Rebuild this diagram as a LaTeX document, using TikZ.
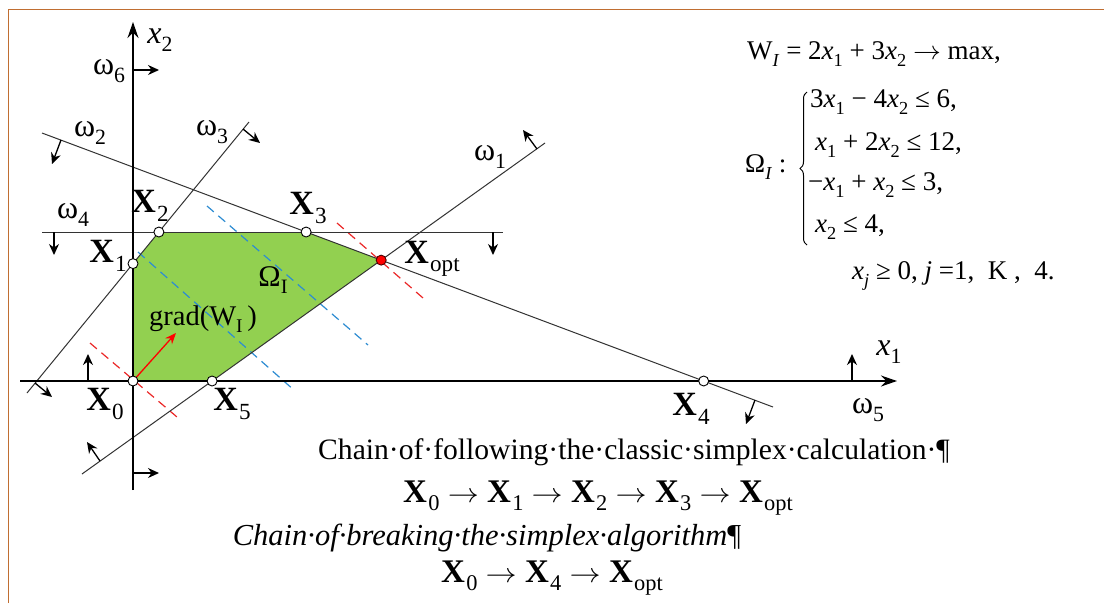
\documentclass[tikz,border=0pt]{standalone}
\usepackage{fontspec}
\setmainfont{Liberation Serif}
\usepackage{graphicx}
\usetikzlibrary{arrows.meta,decorations.pathreplacing,calc}
\definecolor{framebrown}{RGB}{192,110,50}
\definecolor{regiongreen}{RGB}{146,208,80}
\definecolor{lvlred}{RGB}{235,40,40}
\definecolor{lvlblue}{RGB}{45,140,210}
\newcommand\sbx[1]{\raisebox{-0.25em}{\scalebox{0.68}{#1}}}
\newcommand\Xp[1]{\textbf{X}\kern0.04em\sbx{#1}}
\newcommand\om[1]{ω\sbx{#1}}
\newcommand\ix[1]{\textit{x}\sbx{#1}}
\newcommand\arr{ \scalebox{1.25}[1.1]{$\rightarrow$} }
\newcommand\farr{ \scalebox{1.12}[1.05]{$\rightarrow$} }
\begin{document}
\begin{tikzpicture}[x=1pt,y=-1pt,
  cline/.style={line width=1pt, draw=black!80},
  axisline/.style={line width=1.5pt, -{Stealth[length=16pt,width=11pt]}},
  dirarrow/.style={line width=1.3pt, -{Stealth[length=11pt,width=10pt]}},
  vtx/.style={circle, draw=black, fill=white, line width=0.9pt, inner sep=0pt, minimum size=10pt},
  optpt/.style={circle, draw=black!70!red, fill=red, line width=0.9pt, inner sep=0pt, minimum size=10pt},
  reddash/.style={draw=lvlred, line width=1.2pt, dash pattern=on 9pt off 6pt},
  bluedash/.style={draw=lvlblue, line width=1.2pt, dash pattern=on 9pt off 6pt},
  lbl/.style={inner sep=0pt, font=\fontsize{32}{34}\selectfont},
  xlbl/.style={inner sep=0pt, font=\fontsize{34}{36}\selectfont},
  fml/.style={inner sep=0pt, anchor=west, font=\fontsize{27}{30}\selectfont},
  txt/.style={inner sep=0pt, font=\fontsize{29.6}{32}\selectfont},
  chain/.style={inner sep=0pt, font=\fontsize{33}{36}\selectfont}]
\useasboundingbox (0,0) rectangle (1104,603);
\fill[white] (0,0) rectangle (1104,603);
\draw[framebrown, line width=1.6pt] (8.5,603) -- (8.5,9.5) -- (1104,9.5);

% line end points
\coordinate (ax1a) at (20,381);  \coordinate (ax1b) at (897,381);
\coordinate (ax2a) at (133,490); \coordinate (ax2b) at (133,22);
\coordinate (w1a) at (82,474);   \coordinate (w1b) at (545,143);
\coordinate (w2a) at (42,133);   \coordinate (w2b) at (773,407);
\coordinate (w3a) at (27,393);   \coordinate (w3b) at (249,122);
\coordinate (w4a) at (42,232);   \coordinate (w4b) at (503,232);

% vertices
\coordinate (X0) at (133,381);
\coordinate (X1) at (intersection of w3a--w3b and ax2a--ax2b);
\coordinate (X2) at (intersection of w3a--w3b and w4a--w4b);
\coordinate (X3) at (intersection of w2a--w2b and w4a--w4b);
\coordinate (Xo) at (intersection of w1a--w1b and w2a--w2b);
\coordinate (X5) at (intersection of w1a--w1b and ax1a--ax1b);
\coordinate (X4) at (intersection of w2a--w2b and ax1a--ax1b);

% feasible region
\fill[regiongreen] (X0) -- (X1) -- (X2) -- (X3) -- (Xo) -- (X5) -- cycle;

% level lines
\coordinate (r1a) at (90,343);  \coordinate (r1b) at (177,417);
\coordinate (r2a) at (337,223); \coordinate (r2b) at (423,298);
\coordinate (b1a) at (138,252); \coordinate (b1b) at (295,391);
\coordinate (b2a) at (207,206); \coordinate (b2b) at (368,345);
\draw[bluedash] (b1a) -- (b1b);
\draw[bluedash] (b2a) -- (b2b);
\draw[reddash] (r1a) -- (r1b);
\draw[reddash] (r2a) -- (r2b);

% constraint lines
\draw[cline] (w1a) -- (w1b);
\draw[cline] (w2a) -- (w2b);
\draw[cline] (w3a) -- (w3b);
\draw[cline] (w4a) -- (w4b);

% axes
\draw[axisline] (ax1a) -- (ax1b);
\draw[axisline] (ax2a) -- (ax2b);

% direction arrows
\coordinate (d2a) at (61,140);  \coordinate (d2b) at (52,164);
\coordinate (d2c) at (755,400); \coordinate (d2d) at (746,424);
\coordinate (d3a) at (243,129); \coordinate (d3b) at (260,143);
\coordinate (d3c) at (35,383);  \coordinate (d3d) at (52,397);
\coordinate (d1a) at (537,149); \coordinate (d1b) at (523,130);
\coordinate (d1c) at (100,461); \coordinate (d1d) at (87,442);
\coordinate (d4a) at (54,232);  \coordinate (d4b) at (54,255);
\coordinate (d4c) at (493,232); \coordinate (d4d) at (493,255);
\coordinate (d5a) at (88,381);  \coordinate (d5b) at (88,354);
\coordinate (d5c) at (852,381); \coordinate (d5d) at (852,354);
\coordinate (d6a) at (133,70);  \coordinate (d6b) at (159,70);
\coordinate (d6c) at (133,473); \coordinate (d6d) at (159,473);
\foreach \s/\e in {d2a/d2b,d2c/d2d,d3a/d3b,d3c/d3d,d1a/d1b,d1c/d1d,d4a/d4b,d4c/d4d,d5a/d5b,d5c/d5d,d6a/d6b,d6c/d6d}
  \draw[dirarrow] (\s) -- (\e);

% gradient
\coordinate (gtip) at (176,333);
\draw[red, line width=1.3pt, -{Stealth[length=11pt,width=9pt]}] (X0) -- (gtip);

% vertex markers
\foreach \p in {X0,X1,X2,X3,X4,X5}
  \node[vtx] (m\p) at (\p) {};
\node[optpt] (mXo) at (Xo) {};

% labels on the plot
\node[lbl] (lx2) at (160,40) {\ix{2}};
\node[lbl] (lx1) at (889,352) {\ix{1}};
\node[lbl] (lw6) at (109,71) {\om{6}};
\node[lbl] (lw2) at (90,133) {\om{2}};
\node[lbl] (lw3) at (212,132) {\om{3}};
\node[lbl] (lw4) at (73,215) {\om{4}};
\node[lbl] (lw1) at (490,157) {\om{1}};
\node[lbl] (lw5) at (868,410) {\om{5}};
\node[xlbl] (lX0) at (105,404) {\Xp{0}};
\node[xlbl] (lX1) at (108,256) {\Xp{1}};
\node[xlbl] (lX2) at (150,206) {\Xp{2}};
\node[xlbl] (lX3) at (308,208) {\Xp{3}};
\node[xlbl] (lX4) at (691,409) {\Xp{4}};
\node[xlbl] (lX5) at (232,404) {\Xp{5}};
\node[xlbl] (lXo) at (432,259) {\Xp{opt}};
\node[lbl, font=\fontsize{30}{32}\selectfont] (lOm) at (273,280) {Ω\sbx{I}};
\node[lbl, font=\fontsize{28.5}{30}\selectfont] (lgr) at (203,319) {grad(W\sbx{I}\,)};

% model
\node[fml] (f0) at (747,54) {W\sbx{\textit{I}} = 2\ix{1} + 3\ix{2}\farr max,};
\node[fml] (f1) at (810,102) {3\ix{1} − 4\ix{2} ≤ 6,};
\node[fml] (f2) at (815,145) {\ix{1} + 2\ix{2} ≤ 12,};
\node[fml] (f3) at (808,185) {−\ix{1} + \ix{2} ≤ 3,};
\node[fml] (f4) at (815,227) {\ix{2} ≤ 4,};
\node[fml] (fO) at (745,167) {Ω\sbx{\textit{I}} :};
\node[fml] (f5) at (852,276) {\ix{\textit{j}} ≥ 0, \textit{j} =1,~ K ,~ 4.};
\coordinate (brb) at (807,245); \coordinate (brt) at (807,92);
\draw[line width=1pt, decorate, decoration={brace, amplitude=7pt}] (brb) -- (brt);

% chains
\node[txt] (c1) at (634,452) {Chain·of·following·the·classic·simplex·calculation·¶};
\node[chain] (c2) at (598,498) {\Xp{0}\arr\Xp{1}\arr\Xp{2}\arr\Xp{3}\arr\Xp{opt}};
\node[txt, font=\fontsize{30.5}{32}\selectfont\itshape] (c3) at (487,538) {Chain·of·breaking·the·simplex·algorithm{\upshape¶}};
\node[chain] (c4) at (552,578) {\Xp{0}\arr\Xp{4}\arr\Xp{opt}};
\end{tikzpicture}
\end{document}
